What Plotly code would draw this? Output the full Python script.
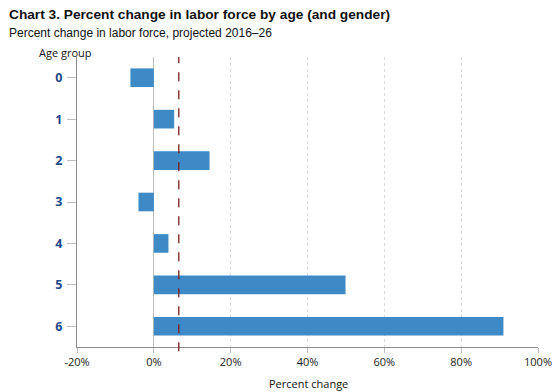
import plotly.graph_objects as go

age_groups = ["0", "1", "2", "3", "4", "5", "6"]
pct_change = [-6.1, 5.3, 14.5, -4.0, 3.8, 49.9, 91.0]
average_change = 6.5
x_ticks = [-20, 0, 20, 40, 60, 80, 100]
x_tick_labels = ["-20%", "0%", "20%", "40%", "60%", "80%", "100%"]

W, H = 559, 392
pl, pr, pt, pb = 77, 21, 57, 45
pw, ph = W - pl - pr, H - pt - pb


def px(x):
    return (x - pl) / pw


def py(y):
    return (H - pb - y) / ph


fig = go.Figure()
fig.add_trace(go.Bar(
    y=age_groups, x=pct_change, orientation="h",
    marker=dict(color="#3E8AC7", line=dict(width=0)),
    width=0.45, showlegend=False,
))
fig.add_shape(type="line", xref="x", yref="paper",
              x0=average_change, x1=average_change, y0=-0.015, y1=1,
              line=dict(color="#7A1F1F", width=1.3, dash="dash"))

fig.update_layout(
    width=W, height=H, autosize=False,
    margin=dict(l=pl, r=pr, t=pt, b=pb, autoexpand=False),
    paper_bgcolor="white", plot_bgcolor="white",
    font=dict(family="Open Sans", size=11, color="#222"),
)

fig.add_annotation(text="<b>Chart 3. Percent change in labor force by age (and gender)</b>",
                   x=px(7), y=py(14), xref="paper", yref="paper", showarrow=False,
                   xanchor="left", yanchor="middle",
                   font=dict(family="Liberation Sans", size=13.7, color="#111"))
fig.add_annotation(text="Percent change in labor force, projected 2016–26",
                   x=px(7), y=py(33), xref="paper", yref="paper", showarrow=False,
                   xanchor="left", yanchor="middle",
                   font=dict(family="Liberation Sans", size=12, color="#111"))
fig.add_annotation(text="Age group",
                   x=px(37), y=py(53), xref="paper", yref="paper", showarrow=False,
                   xanchor="left", yanchor="middle",
                   font=dict(family="Open Sans", size=11, color="#111"))
fig.add_annotation(text="Percent change",
                   x=px(308), y=py(383), xref="paper", yref="paper", showarrow=False,
                   xanchor="center", yanchor="middle",
                   font=dict(family="Open Sans", size=11, color="#111"))

fig.update_xaxes(
    range=[-20, 100], tickvals=x_ticks, ticktext=x_tick_labels,
    showgrid=True, gridcolor="#DADADA", griddash="dot", gridwidth=1,
    zeroline=True, zerolinecolor="#BDBDBD", zerolinewidth=1,
    showline=True, linecolor="#8C8C8C", linewidth=1,
    ticks="outside", ticklen=5, tickcolor="#BDBDBD",
    tickfont=dict(family="Open Sans", size=11, color="#222"),
    automargin=False,
)
fig.update_yaxes(
    categoryorder="array", categoryarray=age_groups,
    range=[6.5, -0.5],
    showgrid=False, zeroline=False,
    showline=True, linecolor="#8C8C8C", linewidth=1,
    ticks="outside", ticklen=9, tickcolor="#BDBDBD",
    ticklabelstandoff=2,
    tickfont=dict(family="Open Sans", size=12.5, color="#1F4A8A", weight="bold"),
    automargin=False,
)

fig.write_html("out.html",
               config={"displayModeBar": False},
               post_script="document.body.style.margin='0';document.body.style.overflow='hidden';")
